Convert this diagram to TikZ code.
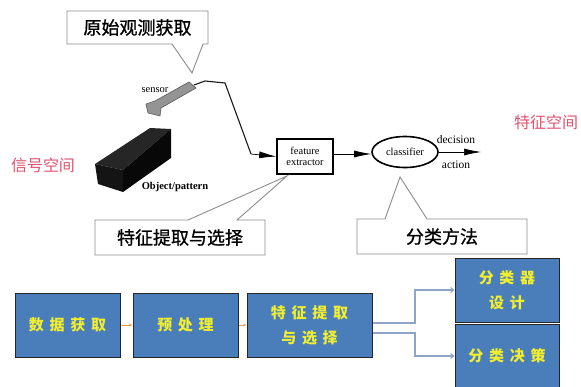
\documentclass[tikz,border=0pt]{standalone}
\usepackage{fontspec}
\setmainfont{Liberation Serif}
\newfontfamily\cjk{Noto Sans CJK SC}
\usetikzlibrary{arrows.meta,shapes.geometric}
\definecolor{boxblue}{HTML}{4A7EBB}
\definecolor{boxyellow}{HTML}{F2EE2E}
\definecolor{spacepink}{HTML}{E2506E}
\definecolor{linkblue}{HTML}{8EA4C8}
\definecolor{stepor}{HTML}{F79646}
\tikzset{
  callout/.style={draw=black!45, line width=0.9pt, fill=white},
  calltext/.style={font=\cjk\fontsize{18}{20}\selectfont\addfontfeature{FakeBold=1}},
  flowbox/.style={draw=black!85, line width=1pt, fill=boxblue, text=boxyellow,
    align=center, inner sep=0pt,
    font=\cjk\bfseries\fontsize{15}{25}\selectfont\addfontfeature{LetterSpace=38}},
  entext/.style={font=\fontsize{10.5}{11}\selectfont, align=center, inner sep=0pt},
  spacelabel/.style={text=spacepink, font=\cjk\fontsize{16}{17}\selectfont},
  bigarrow/.style={-{Latex[length=17pt,width=7pt]}, line width=0.7pt},
  orarrow/.style={-{Latex[length=3pt,width=3pt]}, draw=stepor, line width=1pt},
  linkarrow/.style={-{Straight Barb[length=3pt,width=5pt]}, draw=linkblue, line width=1.1pt},
}
\begin{document}
\begin{tikzpicture}[x=1pt,y=-1pt]
\useasboundingbox (0,0) rectangle (581,386);
\fill[white] (0,0) rectangle (581,386);

% ---- object block ----
\fill[black!85] (95,164) -- (150,128) -- (171,129) -- (123,170) -- cycle;
\fill[black!92] (95,164) -- (123,170) -- (123,192) -- (98,184) -- cycle;
\fill[black!97] (123,170) -- (171,129) -- (171,158) -- (123,192) -- cycle;
\node[entext, font=\bfseries\fontsize{10.5}{11}\selectfont] (obj) at (175,187) {Object/pattern};

% ---- sensor ----
\filldraw[fill=black!42, draw=black!65, line width=0.6pt]
  (189,82) -- (196,88) -- (161,108) -- (160,116) -- (148,113) -- (146,104) -- (155,101) -- cycle;
\coordinate (sensortail) at (194,85);
\node[entext] (sensorlbl) at (155,90) {sensor};

% ---- feature extractor and classifier ----
\node[draw, line width=1.6pt, minimum width=56pt, minimum height=35pt, entext] (feat) at (305,156.5) {feature\\extractor};
\node[draw, ellipse, line width=1.6pt, minimum width=66pt, minimum height=31pt, entext] (clf) at (405,152) {classifier};
\coordinate (outend) at (481,152);
\node[entext, font=\fontsize{11.5}{12}\selectfont] (dec) at (456,140) {decision};
\node[entext, font=\fontsize{11.5}{12}\selectfont] (act) at (456,165) {action};

\draw[line width=1.1pt, black!90] (sensortail) -- (205,81) -- (225,83) -- (251,154);
\draw[bigarrow] (251,154) -- (feat.west);
\draw[bigarrow] (feat.east |- 0,154) -- (clf.west |- 0,154);
\draw[bigarrow] (clf.east) -- (outend);

% ---- space labels ----
\node[spacelabel] (sigspace) at (43,165) {信号空间};
\node[spacelabel] (featspace) at (546,122) {特征空间};

% ---- callouts ----
\draw[callout] (67,11) -- (208,11) -- (208,44) -- (203,44) -- (192,73) -- (172,44) -- (67,44) -- cycle;
\node[calltext] (c1) at (137.5,27.5) {原始观测获取};
\draw[callout] (95,220) -- (188,220) -- (287,176) -- (237,220) -- (265,220) -- (265,255) -- (95,255) -- cycle;
\node[calltext] (c2) at (180,237.5) {特征提取与选择};
\draw[callout] (357,219) -- (385,219) -- (400,177) -- (427,219) -- (527,219) -- (527,254) -- (357,254) -- cycle;
\node[calltext] (c3) at (442,236.5) {分类方法};

% ---- process flow ----
\node[flowbox, minimum width=105pt, minimum height=64pt] (b1) at (67.5,325) {数据获取};
\node[flowbox, minimum width=105pt, minimum height=64pt] (b2) at (185.5,325) {预处理};
\node[flowbox, minimum width=125pt, minimum height=64pt] (b3) at (309.5,325) {特征提取\\与选择};
\node[flowbox, minimum width=104pt, minimum height=64pt] (b4) at (507,290) {分类器\\设计};
\node[flowbox, minimum width=104pt, minimum height=64pt] (b5) at (507,356) {分类决策};

\draw[orarrow] (b1.east) -- (b2.west);
\draw[orarrow] (b2.east) -- (b3.west);
\draw[linkarrow] ([yshift=2pt]b3.east) -- (415,323) |- (b4.west);
\draw[linkarrow] ([yshift=-8pt]b3.east) -- (415,333) |- (b5.west);
\end{tikzpicture}
\end{document}
